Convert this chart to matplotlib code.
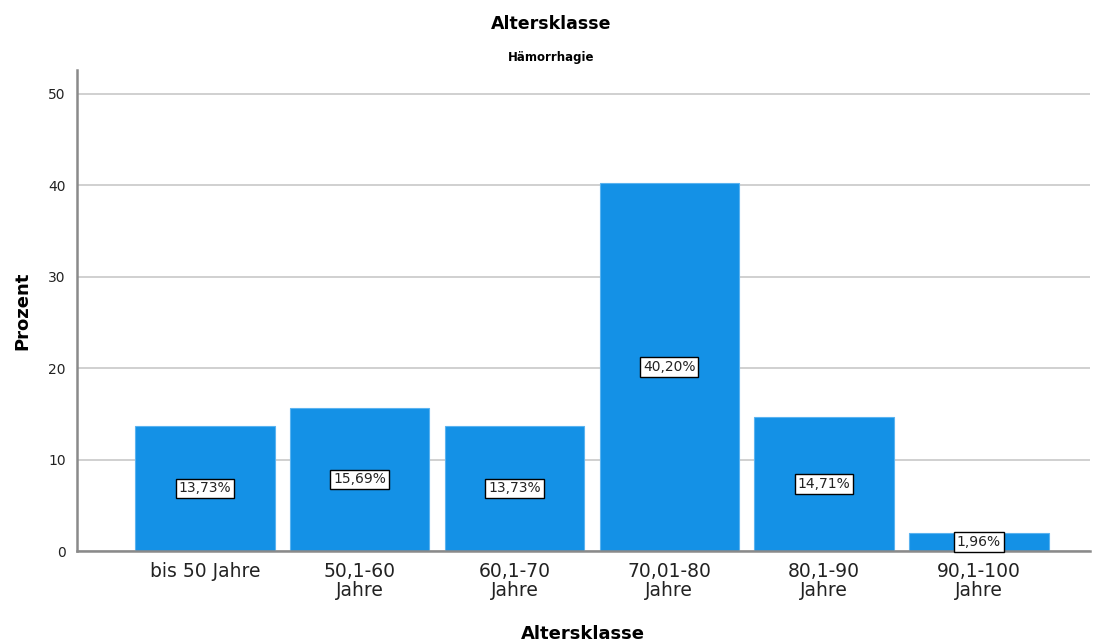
import matplotlib
matplotlib.use("Agg")
import matplotlib.pyplot as plt

categories = ["bis 50 Jahre", "50,1-60\nJahre", "60,1-70\nJahre", "70,01-80\nJahre", "80,1-90\nJahre", "90,1-100\nJahre"]
percent = [13.73, 15.69, 13.73, 40.20, 14.71, 1.96]
yticks = [0, 10, 20, 30, 40, 50]

plt.rcParams['font.family'] = ['DejaVu Sans']

fig = plt.figure(figsize=(11.02, 6.43), dpi=100)
ax = fig.add_axes([0.0699, 0.143, 0.919, 0.748])

x = list(range(len(categories)))
ax.bar(x, percent, width=0.9, color="#1491E6", edgecolor="#5AB3F0", linewidth=0.8, zorder=2)

for xi, v in zip(x, percent):
    ax.text(xi, v / 2, f"{v:.2f}%".replace(".", ","), ha="center", va="center", fontsize=10,
            color="#222222",
            bbox=dict(boxstyle="square,pad=0.2", facecolor="white", edgecolor="black", linewidth=1),
            zorder=3)

ax.set_xlim(-0.826, 5.716)
ax.set_ylim(0, 52.6)
ax.set_yticks(yticks)
ax.set_xticks(x)
ax.set_xticklabels(categories, fontsize=13.5, linespacing=1.0, color="#222222")
ax.tick_params(axis="y", labelsize=10, length=0, pad=8, labelcolor="#222222")
ax.tick_params(axis="x", length=0, pad=8)
ax.yaxis.grid(True, color="#C8C8C8", linewidth=1.2, zorder=0)
ax.set_axisbelow(True)

for side in ["top", "right"]:
    ax.spines[side].set_visible(False)
for side in ["left", "bottom"]:
    ax.spines[side].set_color("#8A8A8A")
    ax.spines[side].set_linewidth(1.8)

ax.set_ylabel("Prozent", fontsize=13, fontweight="bold", labelpad=12)
ax.set_xlabel("Altersklasse", fontsize=13, fontweight="bold", labelpad=18)

fig.text(0.5, 0.963, "Altersklasse", ha="center", va="center", fontsize=12.5, fontweight="bold")
fig.text(0.5, 0.91, "Hämorrhagie", ha="center", va="center", fontsize=8.5, fontweight="bold")

fig.savefig("out.png", dpi=100)
